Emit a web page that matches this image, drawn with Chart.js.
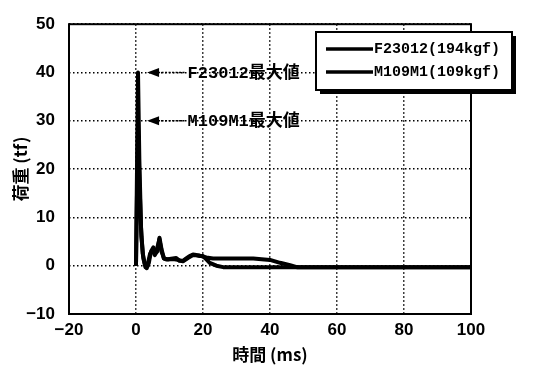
<!DOCTYPE html>
<html>
<head>
<meta charset="utf-8">
<script src="https://cdn.jsdelivr.net/npm/chart.js@4/dist/chart.umd.min.js"></script>
<style>
  html, body { margin: 0; padding: 0; background: #fff; }
  #wrap { width: 533px; height: 367px; }
</style>
</head>
<body>
<div id="wrap"><canvas id="c" width="533" height="367"></canvas></div>
<script>
// Load (tf) against time (ms) for two test pieces
const seriesNames = ['F23012(194kgf)', 'M109M1(109kgf)'];

const f23012Time = [0, 0.3, 0.6, 1.0, 1.5, 2.0, 2.6, 3.2, 3.8, 4.5, 5.2, 5.8, 6.4, 7.0, 7.6, 8.3, 9, 10, 11, 12, 13, 14, 15, 16, 17, 18, 19, 20, 21, 22, 24, 26, 30, 40, 50, 60, 80, 100];
const f23012Load = [0, 20, 40, 22, 8, 2.5, 0.5, -0.5, 0.5, 3, 3.8, 2.5, 3, 5.8, 3.5, 1.5, 1.3, 1.4, 1.5, 1.6, 1.0, 1.0, 1.5, 2.0, 2.3, 2.2, 2.0, 2.0, 1.3, 0.6, 0, -0.3, -0.3, -0.3, -0.3, -0.3, -0.3, -0.3];

const m109m1Time = [0, 0.3, 0.6, 1.0, 1.6, 2.2, 2.8, 3.4, 4.2, 5, 5.6, 6.2, 7, 7.6, 8.4, 9.5, 11, 12.5, 14, 15.5, 17, 19, 21, 23, 26, 30, 35, 40, 43, 46, 48, 60, 80, 100];
const m109m1Load = [0, 15, 30, 18, 6, 1.5, -0.3, 0, 2.5, 3.2, 2.2, 3.3, 5.5, 3, 1.5, 1.3, 1.4, 1.2, 0.9, 1.6, 2.2, 2.1, 1.7, 1.5, 1.5, 1.5, 1.5, 1.2, 0.6, 0.1, -0.3, -0.3, -0.3, -0.3];

const xTicks = [-20, 0, 20, 40, 60, 80, 100];
const yTicks = [-10, 0, 10, 20, 30, 40, 50];

// Peak labels, one per series
const peakLabels = ['F23012最大値', 'M109M1最大値'];

const toPoints = (t, v) => t.map((x, i) => ({ x: x, y: v[i] }));

const tickFont = { family: "'Liberation Sans Narrow', 'Liberation Sans', Arial, sans-serif", size: 17, weight: 'bold' };
const monoFamily = "'Liberation Mono', 'DejaVu Sans Mono', 'Noto Sans CJK JP', monospace";
const titleFont = { family: "'Noto Sans CJK JP', sans-serif", size: 17, weight: 'bold' };

// Frame around the plotting area
const framePlugin = {
  id: 'frame',
  afterDatasetsDraw(chart) {
    const { ctx, chartArea: a } = chart;
    ctx.save();
    ctx.strokeStyle = '#000';
    ctx.lineWidth = 2;
    ctx.strokeRect(a.left, a.top, a.right - a.left, a.bottom - a.top);
    ctx.restore();
  }
};

// Arrows pointing at each series maximum
const peakPlugin = {
  id: 'peaks',
  afterDatasetsDraw(chart) {
    const { ctx, scales: { x, y } } = chart;
    ctx.save();
    chart.data.datasets.forEach((ds, i) => {
      const peak = Math.max(...ds.data.map(p => p.y));
      const py = y.getPixelForValue(peak);
      const tip = x.getPixelForValue(3.3);
      const tail = x.getPixelForValue(14.8);
      // arrow head
      ctx.fillStyle = '#000';
      ctx.beginPath();
      ctx.moveTo(tip, py);
      ctx.lineTo(tip + 12, py - 4.5);
      ctx.lineTo(tip + 12, py + 4.5);
      ctx.closePath();
      ctx.fill();
      // dotted shaft
      ctx.strokeStyle = '#000';
      ctx.lineWidth = 1.5;
      ctx.setLineDash([2, 1.5]);
      ctx.beginPath();
      ctx.moveTo(tip + 11, py);
      ctx.lineTo(tail, py);
      ctx.stroke();
      ctx.setLineDash([]);
      // label
      ctx.font = "bold 17px " + monoFamily;
      ctx.textAlign = 'left';
      ctx.textBaseline = 'middle';
      ctx.fillText(peakLabels[i], tail + 2, py + 1);
    });
    ctx.restore();
  }
};

// Boxed legend with drop shadow
const legendBoxPlugin = {
  id: 'legendBox',
  afterDraw(chart) {
    const { ctx } = chart;
    const bx = 316, by = 32, bw = 196, bh = 58;
    ctx.save();
    ctx.fillStyle = '#000';
    ctx.fillRect(bx + 4, by + 4, bw, bh);
    ctx.fillStyle = '#fff';
    ctx.fillRect(bx, by, bw, bh);
    ctx.strokeStyle = '#000';
    ctx.lineWidth = 2;
    ctx.strokeRect(bx, by, bw, bh);
    ctx.font = "bold 15px " + monoFamily;
    ctx.textAlign = 'left';
    ctx.textBaseline = 'middle';
    chart.data.datasets.forEach((ds, i) => {
      const ly = by + 17 + i * 23;
      ctx.lineWidth = 3.5;
      ctx.beginPath();
      ctx.moveTo(bx + 10, ly);
      ctx.lineTo(bx + 57, ly);
      ctx.stroke();
      ctx.fillStyle = '#000';
      ctx.fillText(ds.label, bx + 58, ly);
    });
    ctx.restore();
  }
};

new Chart(document.getElementById('c'), {
  type: 'scatter',
  data: {
    datasets: [
      { label: seriesNames[0], data: toPoints(f23012Time, f23012Load) },
      { label: seriesNames[1], data: toPoints(m109m1Time, m109m1Load) }
    ].map(d => Object.assign(d, {
      showLine: true, borderColor: '#000', backgroundColor: '#000',
      borderWidth: 4, pointRadius: 0, tension: 0, borderJoinStyle: 'round'
    }))
  },
  options: {
    responsive: false,
    animation: false,
    layout: { padding: { top: 22, right: 62, left: 0, bottom: 0 } },
    plugins: { legend: { display: false }, tooltip: { enabled: false } },
    scales: {
      x: {
        type: 'linear', min: xTicks[0], max: xTicks[xTicks.length - 1],
        afterBuildTicks: s => { s.ticks = xTicks.map(v => ({ value: v })); },
        afterFit: s => { s.height = 53; },
        grid: { color: '#000', lineWidth: 1.5, drawTicks: false },
        border: { display: false, dash: [1.5, 2.5] },
        ticks: { color: '#000', font: tickFont, padding: 6, maxRotation: 0,
                 callback: v => (v < 0 ? '\u2212' : '') + Math.abs(v) },
        title: { display: true, text: '時間 (ms)', color: '#000', font: titleFont,
                 padding: { top: 0, bottom: 2 } }
      },
      y: {
        type: 'linear', min: yTicks[0], max: yTicks[yTicks.length - 1],
        afterBuildTicks: s => { s.ticks = yTicks.map(v => ({ value: v })); },
        afterFit: s => { s.width = 69; },
        grid: { color: '#000', lineWidth: 1.5, drawTicks: false },
        border: { display: false, dash: [1.5, 2.5] },
        ticks: { color: '#000', font: tickFont, padding: 14,
                 callback: v => (v < 0 ? '\u2212' : '') + Math.abs(v) },
        title: { display: true, text: '荷重 (tf)', color: '#000', font: titleFont,
                 padding: { top: 10, bottom: 0 } }
      }
    }
  },
  plugins: [framePlugin, peakPlugin, legendBoxPlugin]
});
</script>
</body>
</html>
